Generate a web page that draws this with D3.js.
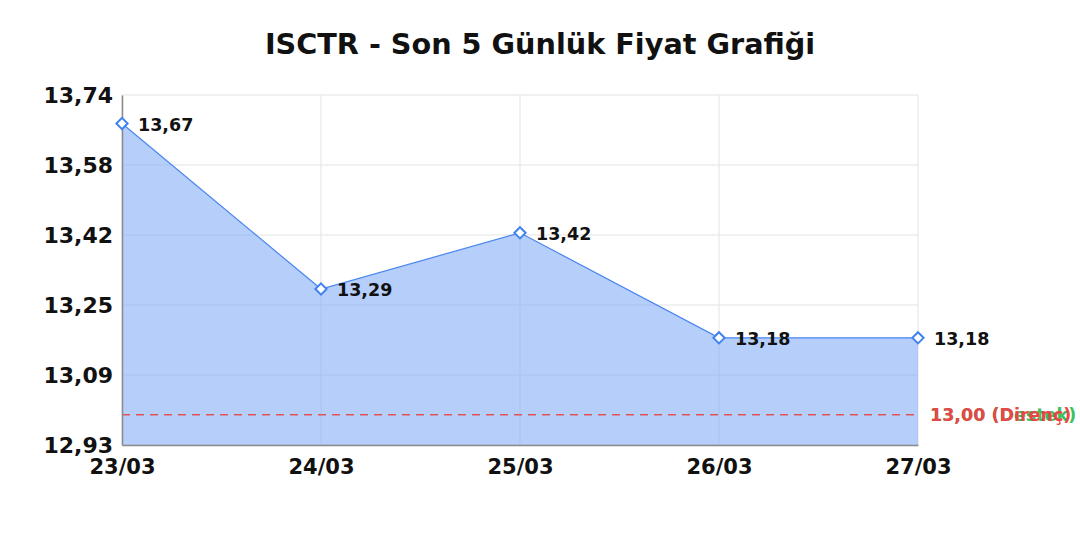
<!DOCTYPE html>
<html>
  <head>
    <meta charset="utf-8">
    <title>ISCTR</title>
    <script src="https://d3js.org/d3.v7.min.js"></script>
    <style>
      body { margin: 0; background: #fff; }
      text { font-family: "DejaVu Sans", sans-serif; font-weight: bold; }
    </style>
  </head>
  <body>
    <script>

      var dates = ["23/03", "24/03", "25/03", "26/03", "27/03"];
      var prices = [13.674, 13.291, 13.421, 13.178, 13.178];
      var yTicks = [12.93, 13.092, 13.254, 13.416, 13.578, 13.74];
      var levels = [
        { value: 13.00, label: "13,00 (Direnç)", color: "#e8474a" },
        { value: 13.00, label: "13,00 (Destek)", color: "#3cc15b" }
      ];

      var width = 1080, height = 540;
      var plotLeft = 122, plotRight = 918, plotTop = 95, plotBottom = 445;

      var svg = d3.select("body").append("svg")
        .attr("width", width)
        .attr("height", height);

      var xScale = d3.scalePoint().domain(dates).range([plotLeft, plotRight]);
      var yScale = d3.scaleLinear().domain([12.93, 13.74]).range([plotBottom, plotTop]);

      function fmt(v) { return v.toFixed(2).replace(".", ","); }

      // grid
      svg.append("g").selectAll("line").data(yTicks).enter().append("line")
        .attr("x1", plotLeft).attr("x2", plotRight)
        .attr("y1", d => yScale(d)).attr("y2", d => yScale(d))
        .attr("stroke", "#e3e3e3").attr("stroke-width", 1);
      svg.append("g").selectAll("line").data(dates).enter().append("line")
        .attr("x1", d => xScale(d)).attr("x2", d => xScale(d))
        .attr("y1", plotTop).attr("y2", plotBottom)
        .attr("stroke", "#e3e3e3").attr("stroke-width", 1);

      // area + line
      var area = d3.area()
        .x((d, i) => xScale(dates[i]))
        .y0(plotBottom)
        .y1(d => yScale(d));
      svg.append("path").datum(prices)
        .attr("d", area)
        .attr("fill", "rgba(120,165,245,0.55)");

      var line = d3.line()
        .x((d, i) => xScale(dates[i]))
        .y(d => yScale(d));
      svg.append("path").datum(prices)
        .attr("d", line)
        .attr("fill", "none")
        .attr("stroke", "#4a86ef")
        .attr("stroke-width", 1.2);

      // level lines
      levels.forEach(function (l) {
        svg.append("line")
          .attr("x1", plotLeft).attr("x2", plotRight)
          .attr("y1", yScale(l.value)).attr("y2", yScale(l.value))
          .attr("stroke", "#e8474a").attr("stroke-width", 1.2)
          .attr("stroke-dasharray", "8,6");
      });
      levels.slice().reverse().forEach(function (l) {
        svg.append("text")
          .attr("x", plotRight + 12).attr("y", yScale(l.value) + 6)
          .attr("font-size", 17.5)
          .attr("fill", l.color)
          .text(l.label);
      });

      // axes
      var yAxis = d3.axisLeft(yScale).tickValues(yTicks).tickSize(0).tickPadding(9).tickFormat(fmt);
      var gy = svg.append("g").attr("transform", "translate(" + plotLeft + ",0)").call(yAxis);
      gy.select(".domain").attr("stroke", "#8a8a8a").attr("stroke-width", 1.5);
      gy.selectAll("text").attr("font-size", 22).attr("fill", "#111")
        .style("font-family", "DejaVu Sans").style("font-weight", "bold");

      var xAxis = d3.axisBottom(xScale).tickSize(0).tickPadding(14);
      var gx = svg.append("g").attr("transform", "translate(0," + plotBottom + ")").call(xAxis);
      gx.select(".domain").attr("stroke", "#8a8a8a").attr("stroke-width", 1.5);
      gx.selectAll("text").attr("font-size", 21).attr("fill", "#111")
        .style("font-family", "DejaVu Sans").style("font-weight", "bold");

      // markers
      svg.append("g").selectAll("path").data(prices).enter().append("path")
        .attr("d", d3.symbol().type(d3.symbolDiamond2).size(80))
        .attr("transform", (d, i) => "translate(" + xScale(dates[i]) + "," + yScale(d) + ")")
        .attr("fill", "#fff")
        .attr("stroke", "#3f82f0")
        .attr("stroke-width", 2);

      // value labels
      svg.append("g").selectAll("text").data(prices).enter().append("text")
        .attr("x", (d, i) => xScale(dates[i]) + 16)
        .attr("y", d => yScale(d) + 7)
        .attr("font-size", 17.5)
        .attr("fill", "#111")
        .text(fmt);

      // title
      svg.append("text")
        .attr("x", width / 2).attr("y", 54)
        .attr("text-anchor", "middle")
        .attr("font-size", 28.7)
        .attr("fill", "#111")
        .text("ISCTR - Son 5 Günlük Fiyat Grafiği");

    </script>
  </body>
</html>
